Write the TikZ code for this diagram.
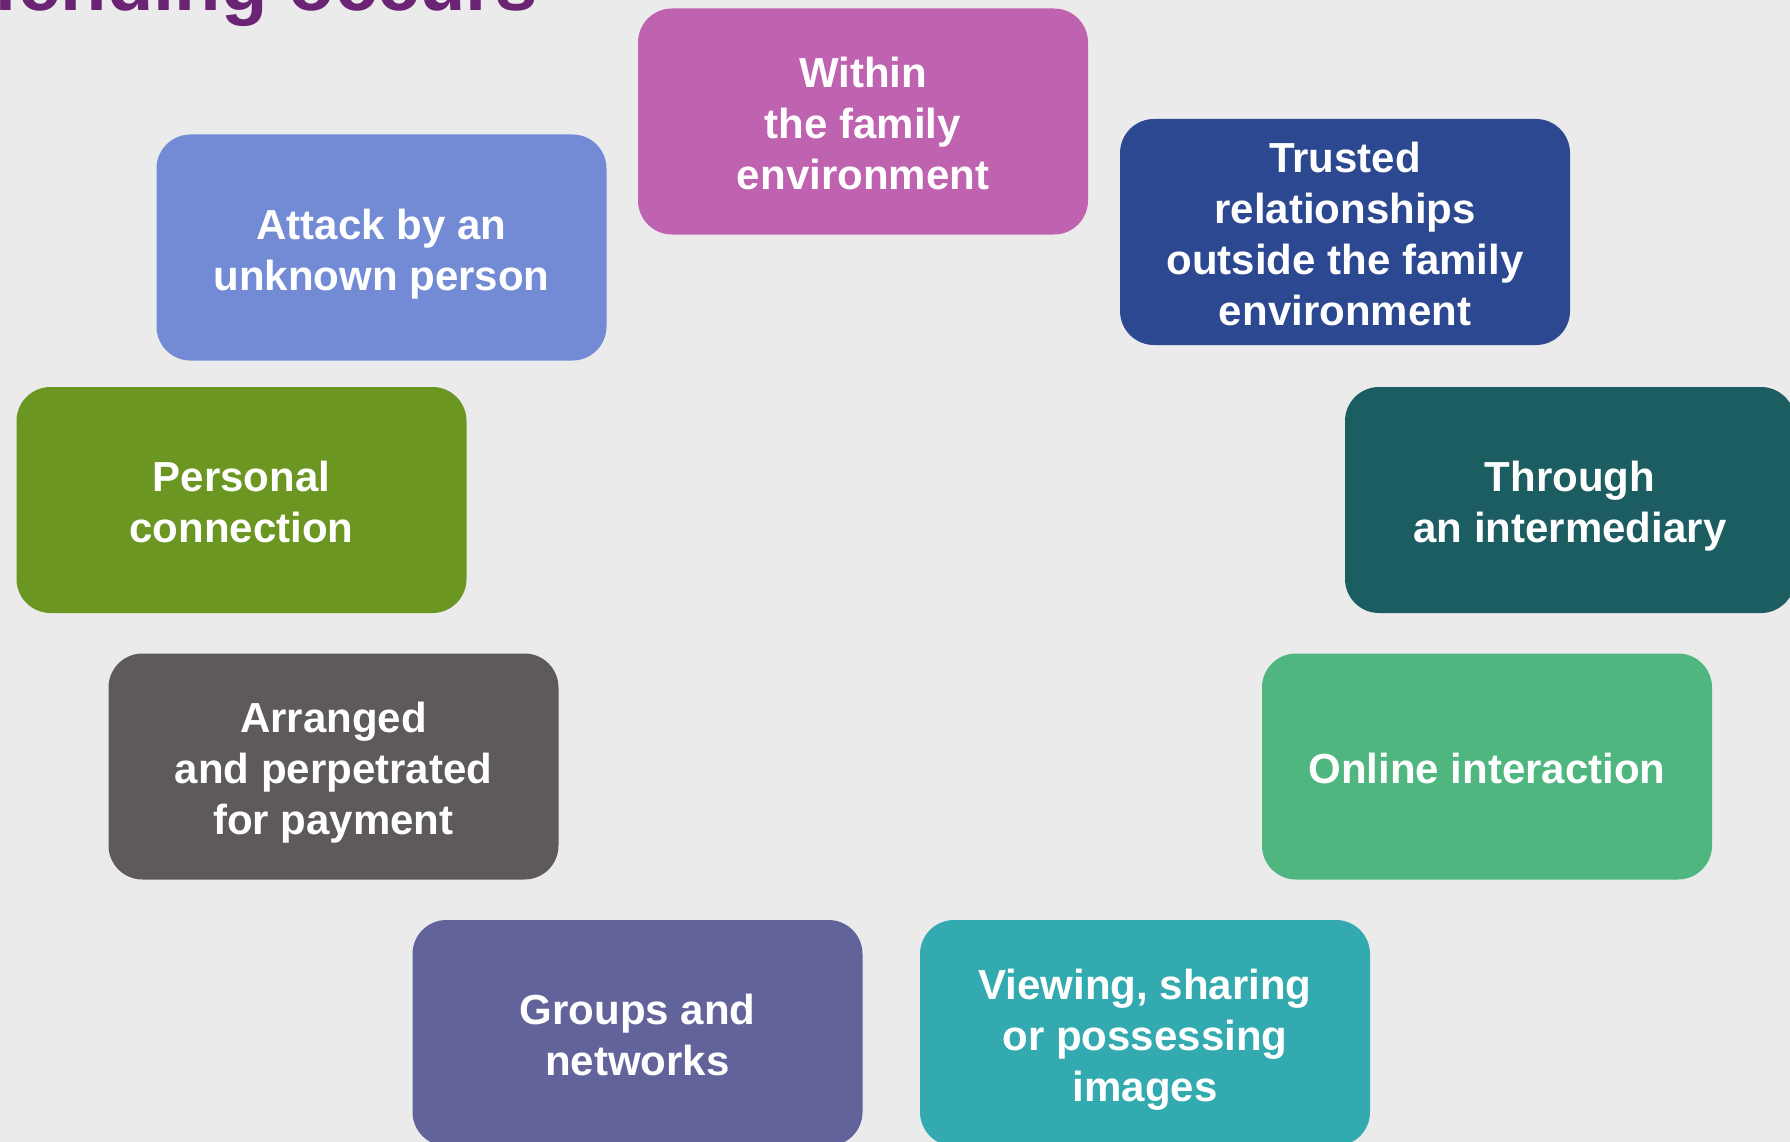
\documentclass[tikz,border=0pt]{standalone}
\usepackage{fontspec}
\setmainfont{Liberation Sans}
\definecolor{bg}{HTML}{EBEBEB}
\definecolor{ctitle}{HTML}{6B2474}
\definecolor{cwithin}{HTML}{BF62B0}
\definecolor{cattack}{HTML}{728BD4}
\definecolor{ctrusted}{HTML}{2C4890}
\definecolor{cpersonal}{HTML}{6A9621}
\definecolor{cthrough}{HTML}{1B5D60}
\definecolor{carranged}{HTML}{5E595C}
\definecolor{conline}{HTML}{4FB680}
\definecolor{cgroups}{HTML}{63639C}
\definecolor{cviewing}{HTML}{33AAB0}
\newcommand{\lines}[1]{\raisebox{-7pt}[\height][\depth]{\begin{tabular}{@{}c@{}}#1\end{tabular}}}
\tikzset{
  ctxbox/.style={fill=#1, draw=none, rounded corners=34pt, minimum width=450pt, minimum height=226pt,
    inner sep=0pt, text=white,
    font=\fontsize{42}{51}\selectfont\bfseries},
  titletext/.style={text=ctitle, font=\fontsize{76}{80}\selectfont\bfseries, inner sep=0pt}
}
\begin{document}
\begin{tikzpicture}[x=1pt,y=-1pt]
\useasboundingbox (0,0) rectangle (1790,1142);
\begin{scope}
\clip (0,0) rectangle (1790,1142);
\fill[bg] (0,0) rectangle (1790,1142);
\node[titletext, anchor=base east] (title) at (538,11) {offending occurs};
\node[ctxbox=cwithin] (within) at (863,121.5) {\lines{Within\\the family\\environment}};
\node[ctxbox=cattack] (attack) at (381.5,247.5) {\lines{Attack by an\\unknown person}};
\node[ctxbox=ctrusted] (trusted) at (1345,232) {\lines{Trusted\\relationships\\outside the family\\environment}};
\node[ctxbox=cpersonal] (personal) at (241.5,500) {\lines{Personal\\connection}};
\node[ctxbox=cthrough] (through) at (1570,500) {\lines{Through\\an intermediary}};
\node[ctxbox=carranged] (arranged) at (333.5,766.5) {\lines{Arranged\\and perpetrated\\for payment}};
\node[ctxbox=conline] (online) at (1487,766.5) {\lines{Online interaction}};
\node[ctxbox=cgroups] (groups) at (637.5,1033) {\lines{Groups and\\networks}};
\node[ctxbox=cviewing] (viewing) at (1145,1033) {\lines{Viewing, sharing\\or possessing\\images}};
\end{scope}
\end{tikzpicture}
\end{document}
